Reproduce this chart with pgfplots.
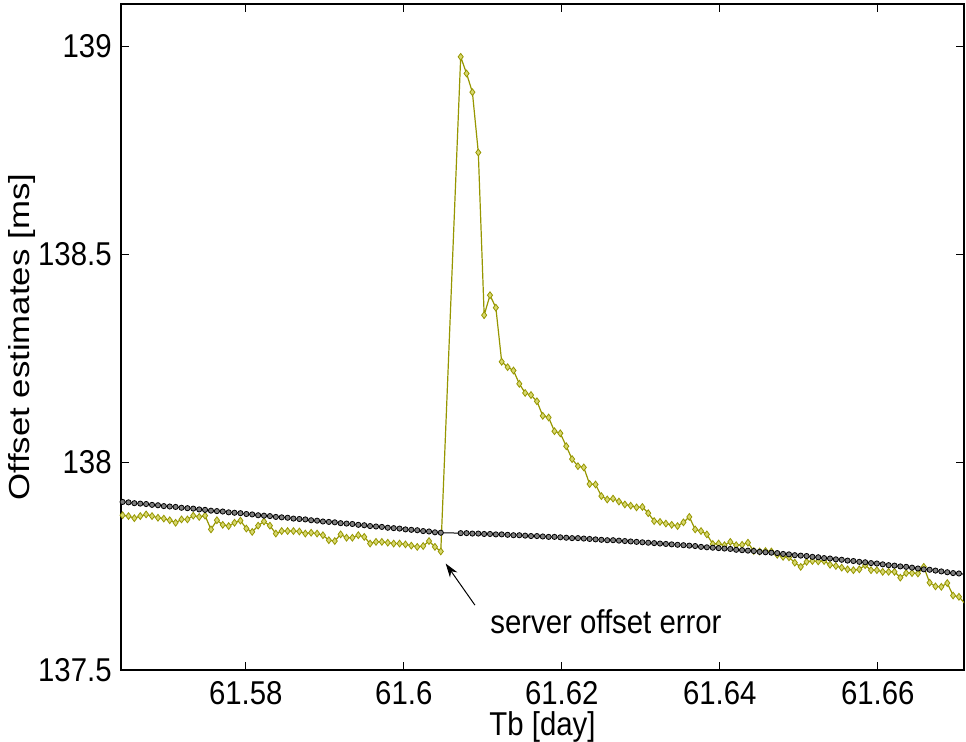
\documentclass[border=0pt]{standalone}
\usepackage{pgfplots}
\pgfplotsset{compat=1.18}
\usepackage{fontspec}
\setmainfont{Liberation Sans}[FakeStretch=0.89]
\newfontfamily\ylabfont{Liberation Sans}[FakeStretch=1.2]
\usetikzlibrary{arrows.meta}
\definecolor{olivel}{RGB}{150,150,0}
\definecolor{olivef}{RGB}{215,215,110}
\begin{document}
\begin{tikzpicture}[font=\fontsize{16.5}{19}\selectfont]
\useasboundingbox (-60.5pt,-35.5pt) rectangle (422.5pt,335pt);
\begin{axis}[
  scale only axis, width=421.5pt, height=333pt,
  xmin=61.5642, xmax=61.67091, ymin=137.5, ymax=139.101,
  xtick={61.58,61.6,61.62,61.64,61.66},
  xticklabels={61.58,61.6,61.62,61.64,61.66},
  ytick={137.5,138,138.5,139},
  yticklabels={137.5,138,138.5,139},
  scaled ticks=false,
  tick align=inside, tick pos=both, major tick length=4pt,
  axis line style={line width=1pt},
  tick style={line width=0.5pt, black},
  xticklabel style={anchor=base, inner sep=0pt, yshift=-17pt},
  yticklabel style={anchor=east, inner sep=0pt, xshift=-4.5pt},
  xlabel={Tb [day]},
  xlabel style={at={(axis description cs:0.5,-0.0985)}, anchor=base, inner sep=0pt},
  ylabel={\ylabfont\fontsize{14.5}{17}\selectfont Offset estimates [ms]},
  ylabel style={at={(axis description cs:-0.1174,0.5)}, anchor=center, inner sep=0pt},
]
\addplot[olivel, line width=0.6pt, mark=diamond*, mark size=1.7pt,
  mark options={fill=olivef, draw=olivel, line width=0.4pt}] table {
x y
61.56440 137.872
61.56515 137.870
61.56589 137.865
61.56664 137.870
61.56738 137.874
61.56813 137.870
61.56888 137.866
61.56962 137.864
61.57037 137.860
61.57111 137.854
61.57186 137.862
61.57261 137.862
61.57335 137.871
61.57410 137.868
61.57484 137.871
61.57559 137.838
61.57634 137.860
61.57708 137.849
61.57783 137.846
61.57857 137.854
61.57932 137.859
61.58007 137.840
61.58081 137.832
61.58156 137.847
61.58230 137.857
61.58305 137.847
61.58380 137.828
61.58454 137.834
61.58529 137.834
61.58603 137.834
61.58678 137.833
61.58753 137.828
61.58827 137.830
61.58902 137.828
61.58976 137.824
61.59051 137.812
61.59126 137.810
61.59200 137.826
61.59275 137.818
61.59349 137.818
61.59424 137.824
61.59499 137.820
61.59573 137.804
61.59648 137.808
61.59722 137.808
61.59797 137.806
61.59872 137.804
61.59946 137.804
61.60021 137.802
61.60095 137.799
61.60170 137.796
61.60245 137.798
61.60319 137.810
61.60394 137.796
61.60468 137.785
61.60720 138.974
61.60794 138.934
61.60868 138.889
61.60943 138.744
61.61017 138.353
61.61091 138.401
61.61165 138.371
61.61239 138.241
61.61314 138.228
61.61388 138.220
61.61462 138.188
61.61536 138.166
61.61610 138.161
61.61685 138.146
61.61759 138.111
61.61833 138.107
61.61907 138.074
61.61981 138.069
61.62056 138.038
61.62130 138.007
61.62204 137.990
61.62278 137.987
61.62352 137.947
61.62427 137.946
61.62501 137.918
61.62575 137.910
61.62649 137.912
61.62723 137.905
61.62798 137.898
61.62872 137.895
61.62946 137.891
61.63020 137.892
61.63094 137.877
61.63169 137.858
61.63243 137.856
61.63317 137.852
61.63391 137.849
61.63465 137.846
61.63540 137.855
61.63614 137.868
61.63688 137.838
61.63762 137.834
61.63836 137.826
61.63911 137.803
61.63985 137.804
61.64059 137.800
61.64133 137.808
61.64207 137.800
61.64282 137.801
61.64356 137.806
61.64430 137.786
61.64504 137.785
61.64578 137.786
61.64653 137.785
61.64727 137.777
61.64801 137.772
61.64875 137.771
61.64949 137.758
61.65024 137.748
61.65098 137.760
61.65172 137.762
61.65246 137.761
61.65320 137.762
61.65395 137.753
61.65469 137.750
61.65543 137.746
61.65617 137.742
61.65691 137.740
61.65766 137.742
61.65840 137.752
61.65914 137.740
61.65988 137.740
61.66062 137.736
61.66137 137.736
61.66211 137.736
61.66285 137.722
61.66359 137.733
61.66433 137.733
61.66508 137.732
61.66582 137.748
61.66656 137.710
61.66730 137.701
61.66804 137.700
61.66879 137.709
61.66953 137.679
61.67027 137.676
61.67101 137.660
};
\addplot[black, line width=0.5pt, mark=*, mark size=1.3pt,
  mark options={fill=gray, draw=black, line width=0.4pt}] table {
x y
61.56440 137.904
61.56515 137.903
61.56589 137.901
61.56664 137.900
61.56738 137.899
61.56813 137.897
61.56888 137.896
61.56962 137.894
61.57037 137.893
61.57111 137.892
61.57186 137.890
61.57261 137.889
61.57335 137.888
61.57410 137.886
61.57484 137.885
61.57559 137.883
61.57634 137.882
61.57708 137.881
61.57783 137.879
61.57857 137.878
61.57932 137.877
61.58007 137.875
61.58081 137.874
61.58156 137.872
61.58230 137.871
61.58305 137.870
61.58380 137.868
61.58454 137.867
61.58529 137.866
61.58603 137.864
61.58678 137.863
61.58753 137.862
61.58827 137.860
61.58902 137.859
61.58976 137.857
61.59051 137.856
61.59126 137.855
61.59200 137.853
61.59275 137.852
61.59349 137.851
61.59424 137.849
61.59499 137.848
61.59573 137.846
61.59648 137.845
61.59722 137.844
61.59797 137.842
61.59872 137.841
61.59946 137.840
61.60021 137.838
61.60095 137.837
61.60170 137.836
61.60245 137.834
61.60319 137.833
61.60394 137.831
61.60468 137.830
61.60720 137.829
61.60794 137.829
61.60868 137.828
61.60943 137.828
61.61017 137.827
61.61091 137.827
61.61165 137.826
61.61239 137.826
61.61314 137.825
61.61388 137.824
61.61462 137.824
61.61536 137.823
61.61610 137.822
61.61685 137.822
61.61759 137.821
61.61833 137.820
61.61907 137.820
61.61981 137.819
61.62056 137.818
61.62130 137.817
61.62204 137.817
61.62278 137.816
61.62352 137.815
61.62427 137.814
61.62501 137.813
61.62575 137.812
61.62649 137.812
61.62723 137.811
61.62798 137.810
61.62872 137.809
61.62946 137.808
61.63020 137.807
61.63094 137.806
61.63169 137.805
61.63243 137.804
61.63317 137.803
61.63391 137.802
61.63465 137.801
61.63540 137.800
61.63614 137.799
61.63688 137.798
61.63762 137.796
61.63836 137.795
61.63911 137.794
61.63985 137.793
61.64059 137.792
61.64133 137.791
61.64207 137.789
61.64282 137.788
61.64356 137.787
61.64430 137.786
61.64504 137.784
61.64578 137.783
61.64653 137.782
61.64727 137.781
61.64801 137.779
61.64875 137.778
61.64949 137.776
61.65024 137.775
61.65098 137.774
61.65172 137.772
61.65246 137.771
61.65320 137.769
61.65395 137.768
61.65469 137.766
61.65543 137.765
61.65617 137.763
61.65691 137.762
61.65766 137.760
61.65840 137.759
61.65914 137.757
61.65988 137.756
61.66062 137.754
61.66137 137.752
61.66211 137.751
61.66285 137.749
61.66359 137.748
61.66433 137.746
61.66508 137.744
61.66582 137.742
61.66656 137.741
61.66730 137.739
61.66804 137.737
61.66879 137.735
61.66953 137.733
61.67027 137.732
61.67101 137.730
};
\node[anchor=west, inner sep=0pt] at (axis cs:61.6109,137.615) {server offset error};
\draw[-{Stealth[length=7pt,width=4.5pt]}, line width=0.5pt] (axis cs:61.6090,137.656) -- (axis cs:61.6053,137.756);
\end{axis}
\end{tikzpicture}
\end{document}
